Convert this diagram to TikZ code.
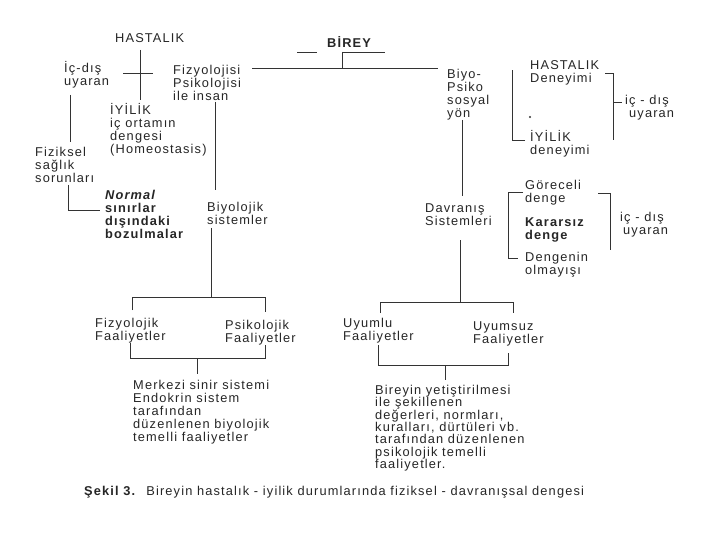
\documentclass[tikz,border=0pt]{standalone}
\usepackage{fontspec}
\setmainfont[LetterSpace=9]{Liberation Sans}
\newcommand\fl{\rule{0pt}{12pt}}
\begin{document}
\begin{tikzpicture}[x=1pt,y=-1pt,
  txt/.style={anchor=north west, inner sep=0pt, align=left, font=\fontsize{12.8}{13}\selectfont, text=black!85},
  txtb/.style={txt, font=\fontsize{12.8}{13}\selectfont\bfseries},
  ln/.style={draw=black!80, line width=0.7pt}]
\path[use as bounding box, fill=white] (0,0) rectangle (720,540);
% ---- text nodes
\node[txt] (hast) at (115,30) {\fl HASTALIK};
\node[txt] (icdis1) at (64,60) {\fl İç-dış\\uyaran};
\node[txt] (fizpsi) at (173,62) {\fl Fizyolojisi\\Psikolojisi\\ile insan};
\node[txt] (iyilik) at (110,102) {\fl İYİLİK\\iç ortamın\\dengesi\\(Homeostasis)};
\node[txt] (fiziksel) at (35,144) {\fl Fiziksel\\sağlık\\sorunları};
\node[txtb] (normal) at (105,187) {\fl\textit{Normal}\\sınırlar\\dışındaki\\bozulmalar};
\node[txt] (biyolojik) at (207,199) {\fl Biyolojik\\sistemler};
\node[txtb] (birey) at (327,35) {\fl BİREY};
\node[txt] (biyopsiko) at (447,66) {\fl Biyo-\\Psiko\\sosyal\\yön};
\node[txt] (hdeney) at (530,57) {\fl HASTALIK\\Deneyimi};
\node[txt] (ideney) at (530,129) {\fl İYİLİK\\deneyimi};
\node[txt] (icdis2) at (625,92) {\fl iç - dış\\\hspace*{4pt}uyaran};
\node[txt] (goreceli) at (525,177) {\fl Göreceli\\denge};
\node[txtb] (kararsiz) at (525,214) {\fl Kararsız\\denge};
\node[txt] (dengenin) at (525,249) {\fl Dengenin\\olmayışı};
\node[txt] (icdis3) at (620,209) {\fl iç - dış\\\hspace*{3pt}uyaran};
\node[txt] (davranis) at (425,200) {\fl Davranış\\Sistemleri};
\node[txt] (fizyolojik) at (95,315) {\fl Fizyolojik\\Faaliyetler};
\node[txt] (psikolojik) at (225,317) {\fl Psikolojik\\Faaliyetler};
\node[txt] (uyumlu) at (343,315) {\fl Uyumlu\\Faaliyetler};
\node[txt] (uyumsuz) at (473,318) {\fl Uyumsuz\\Faaliyetler};
\node[txt] (merkezi) at (133,377) {\fl Merkezi sinir sistemi\\Endokrin sistem\\tarafından\\düzenlenen biyolojik\\temelli faaliyetler};
\node[txt, font=\fontsize{12.8}{12.4}\selectfont] (bireyin) at (375,382) {\fl Bireyin yetiştirilmesi\\ile şekillenen\\değerleri, normları,\\kuralları, dürtüleri vb.\\tarafından düzenlenen\\psikolojik temelli\\faaliyetler.};
\node[txt] (caption) at (84,483) {\fl\textbf{Şekil 3.}\hspace{10pt}Bireyin hastalık - iyilik durumlarında fiziksel - davranışsal dengesi};
% ---- coordinates
\coordinate (h1) at (140,50); \coordinate (h2) at (140,100);
\coordinate (c1) at (123,73); \coordinate (c2) at (153,73);
\coordinate (i1) at (70,95); \coordinate (i2) at (70,142);
\coordinate (f1) at (68,185); \coordinate (f2) at (68,210); \coordinate (f3) at (100,210);
\coordinate (t1) at (252,68); \coordinate (t2) at (438,68);
\coordinate (b1) at (297,52); \coordinate (b2) at (317,52); \coordinate (b3) at (342,52); \coordinate (b4) at (385,52); \coordinate (b5) at (342,68);
\coordinate (p1) at (215,102); \coordinate (p2) at (215,190);
\coordinate (bs1) at (211,228); \coordinate (bs2) at (211,297);
\coordinate (fl1) at (132,310); \coordinate (fl2) at (132,297); \coordinate (fl3) at (265,297); \coordinate (fl4) at (265,312);
\coordinate (gl1) at (130,343); \coordinate (gl2) at (130,358); \coordinate (gl3) at (265,358); \coordinate (gl4) at (265,345);
\coordinate (gc1) at (197,358); \coordinate (gc2) at (197,374);
\coordinate (r1) at (462,120); \coordinate (r2) at (462,196); \coordinate (r3) at (460,240); \coordinate (r4) at (460,302);
\coordinate (ur1) at (380,313); \coordinate (ur2) at (380,302); \coordinate (ur3) at (513,302); \coordinate (ur4) at (513,313);
\coordinate (vr1) at (378,345); \coordinate (vr2) at (378,365); \coordinate (vr3) at (508,365); \coordinate (vr4) at (508,353);
\coordinate (vc1) at (445,365); \coordinate (vc2) at (445,380);
\coordinate (hb1) at (525,140); \coordinate (hb2) at (512,140); \coordinate (hb3) at (512,70);
\coordinate (hr1) at (605,73); \coordinate (hr2) at (613,73); \coordinate (hr3) at (613,140); \coordinate (hr4) at (613,102); \coordinate (hr5) at (622,102);
\coordinate (mb1) at (523,192); \coordinate (mb2) at (508,192); \coordinate (mb3) at (508,258); \coordinate (mb4) at (518,258);
\coordinate (mr1) at (598,193); \coordinate (mr2) at (610,193); \coordinate (mr3) at (610,250);
% ---- lines
\draw[ln] (h1) -- (h2);
\draw[ln] (c1) -- (c2);
\draw[ln] (i1) -- (i2);
\draw[ln] (f1) -- (f2) -- (f3);
\draw[ln] (t1) -- (t2);
\draw[ln] (b1) -- (b2);
\draw[ln] (b3) -- (b4);
\draw[ln] (b3) -- (b5);
\draw[ln] (p1) -- (p2);
\draw[ln] (bs1) -- (bs2);
\draw[ln] (fl1) -- (fl2) -- (fl3) -- (fl4);
\draw[ln] (gl1) -- (gl2) -- (gl3) -- (gl4);
\draw[ln] (gc1) -- (gc2);
\draw[ln] (r1) -- (r2);
\draw[ln] (r3) -- (r4);
\draw[ln] (ur1) -- (ur2) -- (ur3) -- (ur4);
\draw[ln] (vr1) -- (vr2) -- (vr3) -- (vr4);
\draw[ln] (vc1) -- (vc2);
\draw[ln] (hb1) -- (hb2) -- (hb3);
\draw[ln] (hr1) -- (hr2) -- (hr3);
\draw[ln] (hr4) -- (hr5);
\draw[ln] (mb1) -- (mb2) -- (mb3) -- (mb4);
\draw[ln] (mr1) -- (mr2) -- (mr3);
\fill[black!80] (530,117) circle (1.2);
\end{tikzpicture}
\end{document}
